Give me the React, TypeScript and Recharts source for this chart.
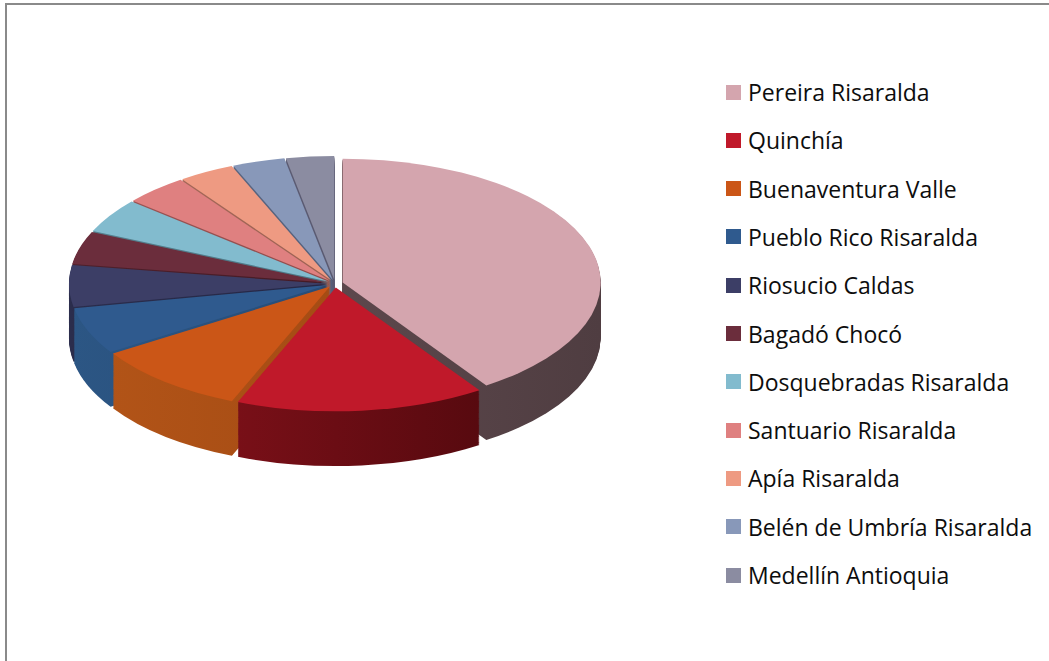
import { PieChart, Pie, Cell } from 'recharts';

// municipios y valores (porcentaje aproximado)
const municipios = [
  'Pereira Risaralda',
  'Quinchía',
  'Buenaventura Valle',
  'Pueblo Rico Risaralda',
  'Riosucio Caldas',
  'Bagadó Chocó',
  'Dosquebradas Risaralda',
  'Santuario Risaralda',
  'Apía Risaralda',
  'Belén de Umbría Risaralda',
  'Medellín Antioquia',
];
const valores = [40.6, 15.6, 9.7, 6.1, 5.4, 4.3, 4.5, 4.0, 3.5, 3.3, 3.0];

const colores = [
  '#D4A5AE', '#C0192A', '#CB5617', '#2F5A8E', '#3C3E66', '#6B2D3C',
  '#82BBCE', '#DF8080', '#EE9A82', '#8898B9', '#8B8CA1',
];
// color del lado (izquierda -> derecha)
const ladoIzq = [
  '#6a5257', '#8e131d', '#b45518', '#2c5684', '#2b2d4c', '#4f202b',
  '#557f8d', '#9c5555', '#a96b5b', '#5e6b87', '#63637b',
];
const ladoDer = [
  '#4f3d41', '#48070b', '#964310', '#22446c', '#202240', '#3c1620',
  '#44707e', '#854444', '#90584a', '#4c5670', '#505066',
];

const data = municipios.map((name, i) => ({ name, value: valores[i] }));

const R = 258;
const SQUASH = 0.48;
const DEPTH = 114;
const STEP = 2;
const EXPLODE = 8;
const CX = 300;
const CY = R + 10;
const W = 600;
const H = CY + R + DEPTH + 10;

const total = valores.reduce((a, b) => a + b, 0);
let acc = 0;
const shifts = valores.map((v) => {
  const mid = ((acc + v / 2) / total) * Math.PI * 2;
  acc += v;
  return `translate(${(EXPLODE * Math.sin(mid)).toFixed(2)}, ${(-EXPLODE * Math.cos(mid)).toFixed(2)})`;
});

const layers: number[] = [];
for (let d = DEPTH; d > 0; d -= STEP) layers.push(d);

export default function App() {
  return (
    <div style={{ position: 'fixed', inset: 0, overflow: 'hidden', background: '#fff' }}>
      <div
        style={{
          position: 'absolute',
          left: 5,
          top: 3,
          width: 1100,
          height: 720,
          borderLeft: '2px solid #8a8a8a',
          borderTop: '2px solid #8a8a8a',
          boxSizing: 'border-box',
        }}
      />
      <div
        style={{
          position: 'absolute',
          left: 335 - CX,
          top: 160 - (CY - R) * SQUASH,
          transform: `scaleY(${SQUASH})`,
          transformOrigin: 'top left',
        }}
      >
        <PieChart width={W} height={H} margin={{ top: 0, right: 0, bottom: 0, left: 0 }}>
          <defs>
            {colores.map((c, i) => (
              <linearGradient
                key={c}
                id={`lado${i}`}
                gradientUnits="userSpaceOnUse"
                x1={CX - R}
                y1={0}
                x2={CX + R}
                y2={0}
              >
                <stop offset="0%" stopColor={ladoIzq[i]} />
                <stop offset="100%" stopColor={ladoDer[i]} />
              </linearGradient>
            ))}
          </defs>
          {layers.map((d) => (
            <Pie
              key={`l${d}`}
              data={data}
              dataKey="value"
              nameKey="name"
              cx={CX}
              cy={CY + d}
              outerRadius={R}
              startAngle={90}
              endAngle={-270}
              stroke="none"
              legendType="none"
              isAnimationActive={false}
            >
              {data.map((e, i) => (
                <Cell key={e.name} fill={`url(#lado${i})`} transform={shifts[i]} />
              ))}
            </Pie>
          ))}
          <Pie
            data={data}
            dataKey="value"
            nameKey="name"
            cx={CX}
            cy={CY}
            outerRadius={R}
            startAngle={90}
            endAngle={-270}
            stroke="none"
            legendType="none"
            isAnimationActive={false}
          >
            {data.map((e, i) => (
              <Cell key={e.name} fill={colores[i]} transform={shifts[i]} />
            ))}
          </Pie>
        </PieChart>
      </div>
      <div style={{ position: 'absolute', left: 726, top: 0 }}>
        {municipios.map((m, i) => (
          <div
            key={m}
            style={{
              position: 'absolute',
              top: 92 + i * 48.3 - 16,
              left: 0,
              height: 32,
              display: 'flex',
              alignItems: 'center',
              whiteSpace: 'nowrap',
              fontFamily: '"Open Sans", Lato, sans-serif',
              fontSize: 23,
              color: '#0d0d0d',
            }}
          >
            <span style={{ width: 15, height: 15, background: colores[i], marginRight: 7, display: 'inline-block', flexShrink: 0 }} />
            {m}
          </div>
        ))}
      </div>
    </div>
  );
}
